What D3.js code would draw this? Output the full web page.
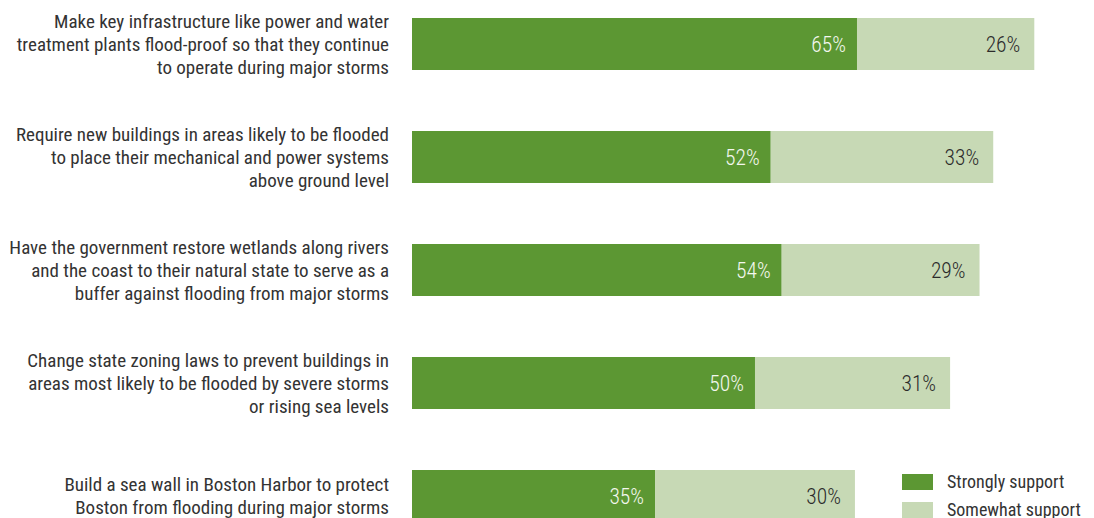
<!DOCTYPE html>
<html><head><meta charset="utf-8">
<script src="https://cdn.jsdelivr.net/npm/d3@7"></script>
<style>body{margin:0;background:#fff;overflow:hidden}</style>
</head><body>
<svg id="c" width="1094" height="518"></svg>
<script>
// ---- data ----
const categories = [
  ["Make key infrastructure like power and water","treatment plants flood-proof so that they continue","to operate during major storms"],
  ["Require new buildings in areas likely to be flooded","to place their mechanical and power systems","above ground level"],
  ["Have the government restore wetlands along rivers","and the coast to their natural state to serve as a","buffer against flooding from major storms"],
  ["Change state zoning laws to prevent buildings in","areas most likely to be flooded by severe storms","or rising sea levels"],
  ["Build a sea wall in Boston Harbor to protect","Boston from flooding during major storms"]
];
const seriesNames = ["Strongly support","Somewhat support"];
// bar lengths
const strongly = [65, 52.4, 54, 50.1, 35.5];
const somewhat = [25.9, 32.5, 28.9, 28.5, 29.2];
// printed labels
const stronglyLabels = ["65%","52%","54%","50%","35%"];
const somewhatLabels = ["26%","33%","29%","31%","30%"];

const colors = ["#5c9733","#c7d9b5"];
const FONT = '"Roboto Condensed", "Liberation Sans", sans-serif';

const svg = d3.select("#c");
const x = d3.scaleLinear().domain([0,100]).range([412, 412 + 684.6]);
const y = d3.scaleLinear().domain([0, categories.length - 1]).range([18, 470]);
const bh = 52;

const g = svg.append("g");
categories.forEach((lines,i)=>{
  const s = strongly[i], w = somewhat[i];
  const yt = y(i);
  g.append("rect").attr("x",x(0)).attr("y",yt).attr("width",x(s)-x(0)).attr("height",bh).attr("fill",colors[0]);
  g.append("rect").attr("x",x(s)).attr("y",yt).attr("width",x(s+w)-x(s)).attr("height",bh).attr("fill",colors[1]);
  g.append("text").attr("x",x(s)-11).attr("y",yt+bh/2).attr("dy","0.36em").attr("text-anchor","end")
    .style("font-family",FONT).style("font-weight",300).style("font-size","21.5px").attr("fill","#f4f7ef").text(stronglyLabels[i]);
  g.append("text").attr("x",x(s+w)-14).attr("y",yt+bh/2).attr("dy","0.36em").attr("text-anchor","end")
    .style("font-family",FONT).style("font-weight",300).style("font-size","21.5px").attr("fill","#2b2b2b").text(somewhatLabels[i]);
  // category label
  const lh = 23;
  const cy = yt + bh/2;
  const t = g.append("text").attr("text-anchor","end").style("font-family",FONT).style("font-size","19px").attr("fill","#333");
  lines.forEach((ln,k)=>{
    t.append("tspan").attr("x",389).attr("y", cy + (k - (lines.length-1)/2)*lh).attr("dy","0.36em").text(ln);
  });
});

// legend
const lg = svg.append("g");
seriesNames.forEach((n,k)=>{
  const ly = 474 + k*28;
  lg.append("rect").attr("x",902).attr("y",ly).attr("width",31).attr("height",16).attr("fill",colors[k]);
  lg.append("text").attr("x",947).attr("y",ly+8).attr("dy","0.36em").style("font-family",FONT).style("font-size","18px").attr("fill","#333").text(n);
});
</script>
</body></html>
